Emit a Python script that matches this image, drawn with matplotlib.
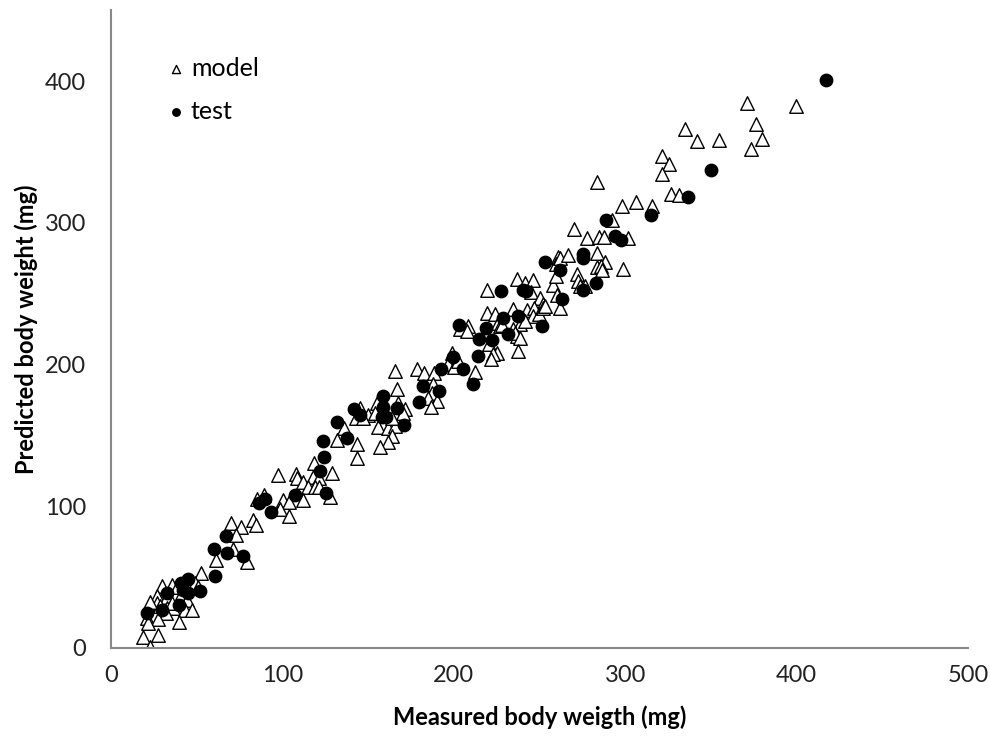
import numpy as np
import matplotlib
matplotlib.use("Agg")
from matplotlib import pyplot as plt

plt.rcParams['font.family'] = ['Lato', 'DejaVu Sans']

# model points (measured, predicted)
model_x = [71.2, 61.3, 79.3, 52.5, 29.8, 35.6, 38.5, 49.0, 50.8, 26.8, 32.7, 41.4, 26.8, 28.6,
           32.7, 36.2, 44.3, 43.2, 32.1, 21.0, 27.4, 21.6, 39.7, 18.7, 27.4, 22.8,
           22.8, 35.6, 47.3,
           135.9, 131.9, 143.5, 143.5, 118.4, 97.4, 107.9, 108.5, 128.9, 112.0, 117.9, 121.4,
           114.9, 119.0, 121.4, 127.8, 112.0, 100.3, 103.9, 85.2, 89.3, 98.6, 103.9, 70.0, 75.8,
           82.8, 84.6, 72.9,
           198.9, 196.6, 200.1, 165.7, 178.5, 182.6, 188.4, 187.9, 166.9, 187.3, 184.9, 190.2,
           186.7, 155.2, 156.9, 145.3, 149.9, 167.4, 171.5, 170.4, 142.9, 147.0, 155.8, 161.6,
           165.7, 163.9,
           154.0, 163.9, 161.6, 156.9,
           260.8, 259.6, 236.9, 241.5, 246.2, 219.4, 245.0, 257.9, 260.2, 250.3, 252.0, 262.0,
           219.4, 224.0, 234.5, 242.7, 246.8, 246.2, 249.7, 252.0, 225.8, 240.4, 238.6, 208.3,
           203.6, 207.7, 234.5, 236.9, 227.0,
           253.2, 241.5, 228.1, 235.7, 238.6, 220.5, 225.2, 222.9, 221.7, 237.5, 202.5, 212.4,
           321.5, 325.6, 321.5, 326.7, 331.4, 283.5, 298.1, 306.3, 315.6, 292.3, 270.1, 277.7,
           284.7, 287.6, 301.6, 262.0, 266.6, 283.5, 288.2, 283.5, 285.9, 286.5, 271.9, 298.7,
           259.6, 272.5, 273.6, 276.5,
           371.1, 399.6, 376.3, 379.8, 373.4, 334.9, 341.9, 354.7]
model_y = [69.7, 62.0, 60.6, 52.8, 43.7, 44.4, 43.0, 45.8, 43.0, 36.6, 35.9, 38.7, 31.7, 29.6,
           28.2, 28.2, 33.8, 26.8, 24.6, 21.1, 20.4, 17.6, 18.3, 7.7, 9.2, 0.5,
           32.4, 31.7, 26.8,
           154.9, 146.5, 143.7, 133.8, 130.3, 121.8, 122.5, 119.7, 123.2, 116.9, 120.4, 119.7,
           113.4, 113.4, 113.4, 106.3, 104.2, 104.2, 102.8, 104.9, 107.7, 97.9, 93.0, 88.0, 85.2,
           90.1, 86.6, 79.6,
           208.5, 200.7, 198.6, 195.8, 197.2, 193.7, 194.4, 186.6, 183.1, 179.6, 176.1, 174.6,
           170.4, 173.2, 169.7, 169.0, 164.1, 173.2, 168.3, 165.5, 162.0, 162.0, 155.6, 154.9,
           157.0, 149.3,
           165.5, 162.0, 145.1, 141.5,
           276.1, 271.1, 260.6, 257.7, 259.9, 252.8, 251.4, 256.3, 249.3, 247.2, 243.0, 240.1,
           236.6, 235.9, 239.4, 238.7, 240.1, 234.5, 235.9, 240.1, 229.6, 232.4, 228.9, 227.5,
           225.4, 223.9, 225.4, 220.4, 227.5,
           241.5, 231.0, 228.2, 222.5, 219.0, 214.8, 208.5, 207.7, 204.2, 209.9, 202.8, 195.1,
           347.2, 341.5, 334.5, 320.4, 319.7, 328.9, 312.0, 314.8, 312.0, 302.1, 295.8, 289.4,
           290.1, 290.1, 289.4, 275.4, 277.5, 278.9, 272.5, 269.0, 269.7, 266.9, 264.1, 267.6,
           262.7, 259.2, 255.6, 255.6,
           384.5, 382.4, 369.7, 359.2, 352.1, 366.2, 357.7, 358.5]

# test points
test_x = [67, 60, 68, 77, 61, 45, 41, 42, 45, 52, 33, 40, 30, 21,
          141.8, 131.9, 123.7, 137.7, 124.3, 121.9, 107.4, 125.4, 89.8, 86.3, 93.3,
          203.0, 199.5, 192.5, 182.0, 191.4, 179.7, 158.7, 145.3, 158.7, 166.9, 158.1, 160.4, 170.9,
          253.2, 262.0, 227.5, 240.4, 242.1, 228.7, 237.5, 218.8, 231.6, 251.5, 214.7, 222.3,
          263.1, 214.1, 205.4, 211.2,
          288.8, 294.0, 297.5, 315.1, 275.4, 275.4, 283.0, 275.4,
          350.1, 336.6, 417.2]
test_y = [79, 70, 67, 65, 51, 49, 46, 41, 39, 40, 39, 30, 27, 25,
          168.3, 159.2, 145.8, 147.9, 134.5, 124.6, 107.7, 109.2, 104.9, 102.1, 95.8,
          228.2, 205.6, 197.2, 185.2, 181.0, 173.9, 177.5, 164.1, 170.4, 169.7, 162.7, 162.7, 157.7,
          272.5, 266.9, 252.1, 252.8, 252.1, 233.1, 234.5, 226.1, 221.8, 227.5, 218.3, 217.6,
          246.5, 206.3, 197.2, 186.6,
          302.1, 290.8, 288.0, 305.6, 278.2, 275.4, 257.7, 252.8,
          337.3, 318.3, 400.7]

x_ticks = [0, 100, 200, 300, 400, 500]
y_ticks = [0, 100, 200, 300, 400]

fig = plt.figure(figsize=(9.9, 7.38), dpi=100)
ax = fig.add_axes([0.112, 0.122, 0.866, 0.864])

ax.scatter(model_x, model_y, marker='^', s=95, facecolors='white', edgecolors='black',
           linewidths=1.0, label='model', zorder=2)
ax.scatter(test_x, test_y, marker='o', s=80, color='black', label='test', zorder=3)

ax.set_xlim(0, 500)
ax.set_ylim(0, 450)
ax.set_xticks(x_ticks)
ax.set_yticks(y_ticks)
ax.tick_params(length=0, labelsize=17, colors='#222222')
ax.tick_params(axis='x', pad=12)
ax.tick_params(axis='y', pad=18)

for side in ['top', 'right']:
    ax.spines[side].set_visible(False)
for side in ['left', 'bottom']:
    ax.spines[side].set_color('#888888')
    ax.spines[side].set_linewidth(1.5)

ax.set_xlabel('Measured body weigth (mg)', fontsize=17, fontweight='bold', labelpad=14)
ax.set_ylabel('Predicted body weight (mg)', fontsize=17, fontweight='bold', labelpad=5)

leg = ax.legend(loc='upper left', bbox_to_anchor=(0.035, 0.962), frameon=False, fontsize=18,
                labelspacing=0.8, handletextpad=0.1, markerscale=0.6, handlelength=1.0)

fig.savefig('out.png', dpi=100)
